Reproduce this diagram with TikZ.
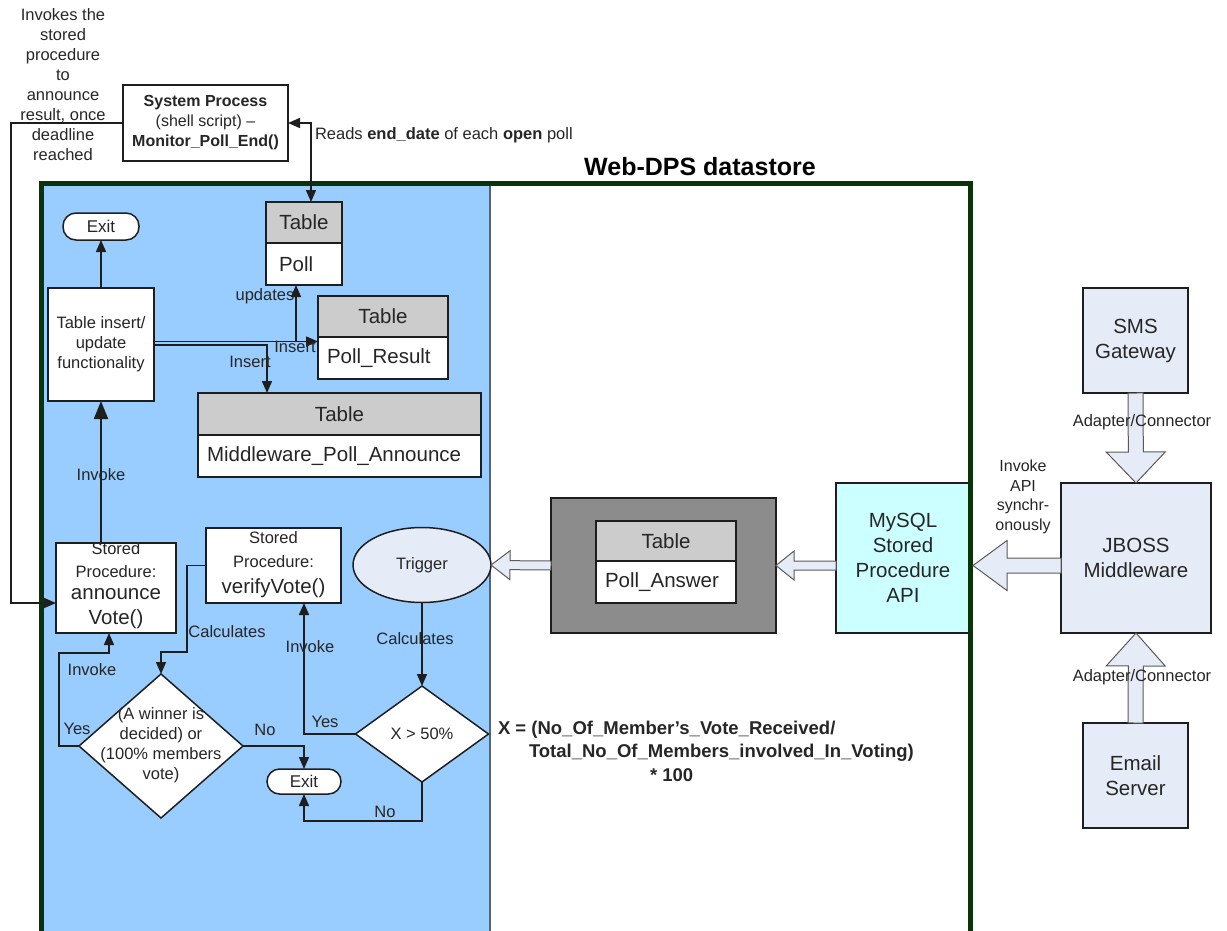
\documentclass[tikz,border=0pt]{standalone}
\usepackage{fontspec}
\setmainfont{Liberation Sans}
\usetikzlibrary{arrows.meta,shapes.geometric,calc}

\definecolor{blueA}{HTML}{99CCFF}
\definecolor{dgreen}{HTML}{0A330A}
\definecolor{thead}{HTML}{CCCCCC}
\definecolor{darkbox}{HTML}{8C8C8C}
\definecolor{cyanbox}{HTML}{CCFFFF}
\definecolor{lavbox}{HTML}{E6ECF7}
\definecolor{txt}{HTML}{262626}
\definecolor{ln}{HTML}{1E1E1E}
\definecolor{divgray}{HTML}{5A6470}
\definecolor{arrline}{HTML}{5A5A5A}

\newcommand\fsz[2]{\fontsize{#1}{#2}\selectfont}

% block arrow: from, to, shaft half, head half, head length
\newcommand\blockarr[5]{%
  \coordinate (ba-base) at ($(#2)!#5!(#1)$);
  \filldraw[blockstyle] ($(#1)!#3!90:(#2)$) -- ($(ba-base)!#3!90:(#2)$) -- ($(ba-base)!#4!90:(#2)$) -- (#2) -- ($(ba-base)!#4!-90:(#2)$) -- ($(ba-base)!#3!-90:(#2)$) -- ($(#1)!#3!-90:(#2)$) -- cycle;}

\begin{document}
\begin{tikzpicture}[x=1pt,y=-1pt,
  every node/.style={text=txt, inner sep=0pt, outer sep=0pt},
  rect/.style={draw=ln, line width=1.5pt, fill=white},
  thd/.style={draw=ln, line width=1.5pt, fill=thead, minimum height=41pt, font=\fsz{20.5}{24}},
  tbd/.style={draw=ln, line width=1.5pt, fill=white, minimum height=42pt, font=\fsz{20.5}{24}, align=left, inner xsep=9pt},
  lav/.style={draw=ln, line width=1.5pt, fill=lavbox, align=center, font=\fsz{20.5}{25}},
  conn/.style={draw=ln, line width=1.5pt, -{Triangle[length=12pt,width=10pt]}},
  bigconn/.style={draw=ln, line width=2pt, -{Triangle[length=18pt,width=14pt]}},
  lbl/.style={font=\fsz{16.5}{20}},
  blockstyle/.style={fill=lavbox, draw=arrline, line width=1pt},
]
\useasboundingbox (0,0) rectangle (1227,930);

% datastore background
\begin{scope}
\clip (0,0) rectangle (1227,930);
\fill[blueA] (41,183) rectangle (490,940);
\draw[line width=1.5pt, divgray] (490,183) -- (490,940);
\end{scope}

% top-left
\node[align=center, font=\fsz{16.5}{20}] (note) at (63,85) {Invokes the\\stored\\procedure\\to\\announce\\result, once\\deadline\\reached};
\node[rect, minimum width=165pt, minimum height=76pt, align=center, font=\fsz{16}{20}] (sysproc) at (205.5,123) {\textbf{System Process}\\(shell script) –\\\textbf{Monitor\_Poll\_End()}};
\node[anchor=west, font=\fsz{16.5}{20}] (reads) at (315,135) {Reads \textbf{end\_date} of each \textbf{open} poll};
\node[font=\bfseries\fsz{25}{30}, text=black] (title) at (700,167) {Web-DPS datastore};

% blue area nodes
\node[rect, rounded corners=13pt, minimum width=76pt, minimum height=27pt, font=\fsz{17}{20}] (exitA) at (101,226.5) {Exit};
\node[rect, minimum width=106pt, minimum height=113pt, align=center, font=\fsz{16.5}{20}] (tiu) at (101,344.5) {Table insert/\\update\\functionality};

\node[thd, minimum width=76pt] (pollh) at (304,222.5) {Table};
\node[tbd, text width=58pt] (pollb) at (304,264) {\hspace*{4pt}Poll};
\node[thd, minimum width=130pt] (prh) at (383,316.5) {Table};
\node[tbd, text width=112pt] (prb) at (383,358) {Poll\_Result};
\node[thd, minimum width=283pt, minimum height=42pt] (mwh) at (339.5,414) {Table};
\node[tbd, text width=265pt] (mwb) at (339.5,456) {Middleware\_Poll\_Announce};

\node[rect, minimum width=120pt, minimum height=90pt] (ann) at (116,588) {};
\node[font=\fsz{16.5}{23}, align=center] (annS) at (116,560) {Stored\\Procedure:};
\node[font=\fsz{20.5}{25}, align=center] (annB) at (116,609) {announce\\Vote()};

\node[rect, minimum width=135pt, minimum height=75pt] (verify) at (273.5,565.5) {};
\node[font=\fsz{16.5}{24}, align=center] (verS) at (273.5,550) {Stored\\Procedure:};
\node[font=\fsz{20.5}{25}] (verB) at (273.5,588) {verifyVote()};

\node[draw=ln, line width=1.5pt, fill=lavbox, ellipse, minimum width=138pt, minimum height=75pt, font=\fsz{16.5}{20}] (trigger) at (422,565) {Trigger};

\node[draw=ln, line width=1.5pt, fill=white, diamond, minimum width=164pt, minimum height=144pt] (d1) at (161,746) {};
\node[align=center, font=\fsz{16.5}{20}] (d1t) at (161,745) {(A winner is\\decided) or\\(100\% members\\vote)};
\node[draw=ln, line width=1.5pt, fill=white, diamond, minimum width=133pt, minimum height=96pt] (d2) at (422,734) {};
\node[font=\fsz{16.5}{20}] (d2t) at (422,734) {X > 50\%};
\node[rect, rounded corners=12.5pt, minimum width=74pt, minimum height=25pt, font=\fsz{17}{20}] (exitB) at (304,781.5) {Exit};

% white area
\node[draw=ln, line width=1.5pt, fill=darkbox, minimum width=225pt, minimum height=135pt] (dark) at (663.5,565.5) {};
\node[thd, minimum width=140pt, minimum height=40pt] (pah) at (666,541) {Table};
\node[tbd, text width=122pt] (pab) at (666,582) {Poll\_Answer};
\node[draw=ln, line width=1.5pt, fill=cyanbox, minimum width=134pt, minimum height=150pt, align=center, font=\fsz{20.5}{25}] (mysql) at (903,558) {MySQL\\Stored\\Procedure\\API};

\node[font=\bfseries\fsz{18.5}{22}, anchor=west] (f1) at (498,730) {X = (No\_Of\_Member’s\_Vote\_Received/};
\node[font=\bfseries\fsz{18.5}{22}, anchor=west] (f2) at (529,753) {Total\_No\_Of\_Members\_involved\_In\_Voting)};
\node[font=\bfseries\fsz{18.5}{22}, anchor=west] (f3) at (650,775) {* 100};

% frame
\begin{scope}
\clip (0,0) rectangle (1227,930);
\draw[dgreen, line width=5pt] (41,183) rectangle (970,945);
\end{scope}

% right side
\node[lav, minimum width=105pt, minimum height=105pt] (sms) at (1135.5,340.5) {SMS\\Gateway};
\node[lav, minimum width=150pt, minimum height=150pt] (jboss) at (1136,558) {JBOSS\\Middleware};
\node[lav, minimum width=105pt, minimum height=105pt] (email) at (1135.5,775.5) {Email\\Server};

% block arrows
\blockarr{mysql.west |- dark.east}{dark.east}{4.5pt}{14.5pt}{18pt}
\blockarr{dark.west}{trigger.east}{4.5pt}{14.5pt}{19pt}
\blockarr{sms.south}{jboss.north}{7.5pt}{29.5pt}{31pt}
\blockarr{email.north}{jboss.south}{7.5pt}{29.5pt}{33pt}
\coordinate (apiTip) at ($(mysql.east |- dark.east)+(3,0)$);
\blockarr{jboss.west |- dark.east}{apiTip}{7.5pt}{25pt}{34pt}

\node[lbl] (ad1) at (1142,422) {Adapter/Connector};
\node[lbl] (ad2) at (1142,677) {Adapter/Connector};
\node[align=center, font=\fsz{16}{19.5}] (api) at (1023,497) {Invoke\\API\\synchr-\\onously};

% connectors
\draw[conn] (sysproc.west) -| (11,603) -- ($(ann.west)+(0,15)$);
\draw[draw=ln, line width=1.5pt, {Triangle[length=12pt,width=10pt]}-{Triangle[length=12pt,width=10pt]}] ($(pollh.north)+(7,0)$) |- (sysproc.east);
\draw[conn] (tiu.north) -- (exitA.south);
\coordinate (annup) at ($(ann.north)+(-15,0)$);
\draw[bigconn] (annup) -- (annup |- tiu.south);

\coordinate (tiuA) at ($(tiu.east)+(0,-3)$);
\coordinate (tiuB) at ($(tiu.east)+(0,0.5)$);
\draw[conn] (tiuA) -- (tiuA -| prb.west);
\coordinate (updx) at ($(pollb.south)+(-8,0)$);
\draw[conn] (updx |- tiuA) -- (updx);
\coordinate (insx) at ($(mwh.north)+(-72.5,0)$);
\draw[conn] (tiuB) -| (insx);

\draw[conn] (verify.west) -- ++(-19,0) |- ($(d1.north)+(0,-22)$) -- (d1.north);
\coordinate (annbot) at ($(ann.south)+(-7,0)$);
\draw[conn] (d1.west) -- ++(-20,0) |- ($(annbot)+(0,20)$) -- (annbot);
\draw[conn] (d1.east) -| (exitB.north);
\draw[conn] (trigger.south) -- (d2.north);
\coordinate (verx) at ($(verify.south)+(30.5,0)$);
\draw[conn] (d2.west) -| (verx);
\draw[conn] (d2.south) -- ++(0,39) -| (exitB.south);

% labels
\node[lbl] (lInv1) at (101,475) {Invoke};
\node[lbl] (lUpd) at (265,296) {updates};
\node[lbl] (lIns1) at (295,347) {Insert};
\node[lbl] (lIns2) at (250,362) {Insert};
\node[lbl] (lCalc1) at (227,632) {Calculates};
\node[lbl] (lInv2) at (92,670) {Invoke};
\node[lbl] (lYes1) at (77,729) {Yes};
\node[lbl] (lNo1) at (265,730) {No};
\node[lbl] (lCalc2) at (415,639) {Calculates};
\node[lbl] (lYes2) at (325,722) {Yes};
\node[lbl] (lInv3) at (310,647) {Invoke};
\node[lbl] (lNo2) at (385,812) {No};
\end{tikzpicture}
\end{document}
